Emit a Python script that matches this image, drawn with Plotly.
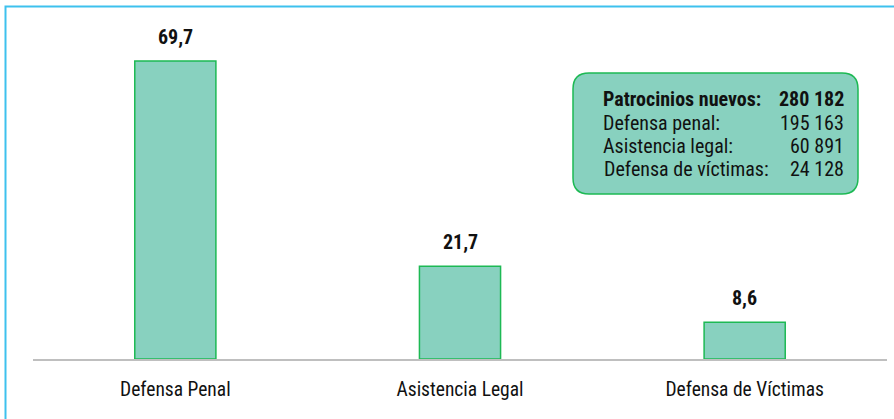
import plotly.graph_objects as go

categories = ["Defensa Penal", "Asistencia Legal", "Defensa de Víctimas"]
values = [69.7, 21.7, 8.6]
box_labels = ["Patrocinios nuevos:", "Defensa penal:", "Asistencia legal:", "Defensa de víctimas:"]
box_values = ["280 182", "195 163", "60 891", "24 128"]

FONT = "Liberation Sans Narrow, Roboto Condensed, Arial Narrow, Liberation Sans, Arial, sans-serif"

W, H = 894, 419
L, R, T, B = 33, 7, 17, 60
pw, ph = W - L - R, H - T - B

def px(x):
    return (x - L) / pw

def py(y):
    return (H - B - y) / ph

fig = go.Figure()
fig.add_trace(go.Bar(
    x=categories, y=values,
    marker=dict(color="#88D1BF", line=dict(color="#1DB954", width=1.5)),
    width=0.285,
    hoverinfo="skip",
))

annotations = []
for c, v in zip(categories, values):
    annotations.append(dict(
        x=c, y=v, xref="x", yref="y", text="<b>" + f"{v:.1f}".replace(".", ",") + "</b>",
        showarrow=False, yanchor="bottom", yshift=10,
        font=dict(family=FONT, size=20, color="#111111"),
    ))

rows_y = [99, 123, 146, 169]
label_x = [602, 602, 602, 603]
for i, (lab, val) in enumerate(zip(box_labels, box_values)):
    bold = i == 0
    annotations.append(dict(
        x=px(label_x[i]), y=py(rows_y[i]), xref="paper", yref="paper",
        text=("<b>%s</b>" % lab) if bold else lab, showarrow=False,
        xanchor="left", yanchor="middle", xshift=-1,
        font=dict(family=FONT, size=20, color="#111111"),
    ))
    annotations.append(dict(
        x=px(845), y=py(rows_y[i]), xref="paper", yref="paper",
        text=("<b>%s</b>" % val) if bold else val, showarrow=False,
        xanchor="right", yanchor="middle", xshift=1,
        font=dict(family=FONT, size=20, color="#111111"),
    ))

# rounded rectangle for the info box
x0, x1, y0, y1 = 573, 858, 73, 194
r = 16
def P(x, y):
    return f"{px(x):.5f},{py(y):.5f}"
path = (
    f"M {P(x0 + r, y0)} L {P(x1 - r, y0)} Q {P(x1, y0)} {P(x1, y0 + r)} "
    f"L {P(x1, y1 - r)} Q {P(x1, y1)} {P(x1 - r, y1)} "
    f"L {P(x0 + r, y1)} Q {P(x0, y1)} {P(x0, y1 - r)} "
    f"L {P(x0, y0 + r)} Q {P(x0, y0)} {P(x0 + r, y0)} Z"
)

shapes = [
    dict(type="path", path=path, xref="paper", yref="paper",
         fillcolor="#88D1BF", line=dict(color="#1DB954", width=1.5), layer="below"),
    dict(type="rect", xref="paper", yref="paper",
         x0=px(5.5), x1=px(905), y0=py(430), y1=py(6.5),
         line=dict(color="#3EC1EE", width=2), fillcolor="rgba(0,0,0,0)"),
]

fig.update_layout(
    width=W, height=H,
    margin=dict(l=L, r=R, t=T, b=B),
    paper_bgcolor="white", plot_bgcolor="white",
    showlegend=False,
    separators=", ",
    annotations=annotations,
    shapes=shapes,
    hovermode=False,
    xaxis=dict(
        showgrid=False, showline=True, linecolor="#BFBFBF", linewidth=1.5,
        ticks="", tickfont=dict(family=FONT, size=19.5, color="#111111"),
        ticklabelstandoff=12, fixedrange=True,
    ),
    yaxis=dict(range=[0, 80], visible=False, showgrid=False, zeroline=False, fixedrange=True),
)

fig.write_html(
    "out.html",
    config={"displayModeBar": False, "staticPlot": True},
    post_script="document.body.style.margin='0';document.body.style.overflow='hidden';",
)
